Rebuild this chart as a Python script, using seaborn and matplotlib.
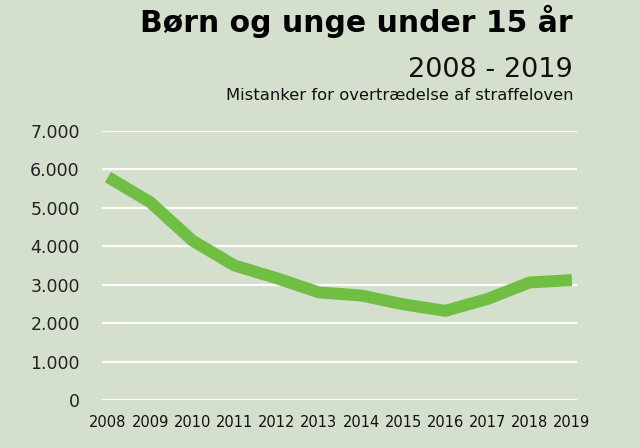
import matplotlib
matplotlib.use("Agg")
import matplotlib.pyplot as plt
import seaborn as sns
import pandas as pd

years = ["2008", "2009", "2010", "2011", "2012", "2013", "2014", "2015", "2016", "2017", "2018", "2019"]
values = [5800, 5150, 4150, 3500, 3170, 2800, 2720, 2490, 2320, 2630, 3060, 3120]
yticks = [0, 1000, 2000, 3000, 4000, 5000, 6000, 7000]
ytick_labels = ["0", "1.000", "2.000", "3.000", "4.000", "5.000", "6.000", "7.000"]

title = "Børn og unge under 15 år"
subtitle = "2008 - 2019"
subsubtitle = "Mistanker for overtrædelse af straffeloven"

bg = "#d5dfcd"
line_color = "#70bf44"

sns.set_theme(style="white")
plt.rcParams['font.family'] = ['DejaVu Sans']

df = pd.DataFrame({"x": range(len(years)), "year": years, "value": values})

fig = plt.figure(figsize=(6.4, 4.48), dpi=100, facecolor=bg)
ax = fig.add_axes([102/640, 1-400/448, (577-102)/640, (400-131)/448])
ax.set_facecolor(bg)

for t in yticks:
    ax.axhline(t, color="white", lw=1.6, zorder=1)

sns.lineplot(data=df, x="x", y="value", ax=ax, color=line_color, lw=8.6,
             solid_capstyle="butt", zorder=3, clip_on=False)

ax.set_xlim(-0.14, 11.12)
ax.set_ylim(0, 7000)
ax.set_xticks(range(len(years)))
ax.set_xticklabels(years, fontsize=10.5, color="#111111")
ax.set_yticks(yticks)
ax.set_yticklabels(ytick_labels, fontsize=12.5, color="#222222")
ax.tick_params(axis="x", length=0, pad=11)
ax.tick_params(axis="y", length=0, pad=16)
ax.set_xlabel("")
ax.set_ylabel("")
for s in ax.spines.values():
    s.set_visible(False)

fig.text(573/640, 1-32/448, title, ha="right", va="baseline", fontsize=21.5,
         fontweight="bold", color="black")
fig.text(573/640, 1-77/448, subtitle, ha="right", va="baseline", fontsize=19.5,
         color="#111111")
fig.text(573/640, 1-100/448, subsubtitle, ha="right", va="baseline", fontsize=11.8,
         color="#111111")

fig.savefig("out.png", dpi=100, facecolor=bg)
